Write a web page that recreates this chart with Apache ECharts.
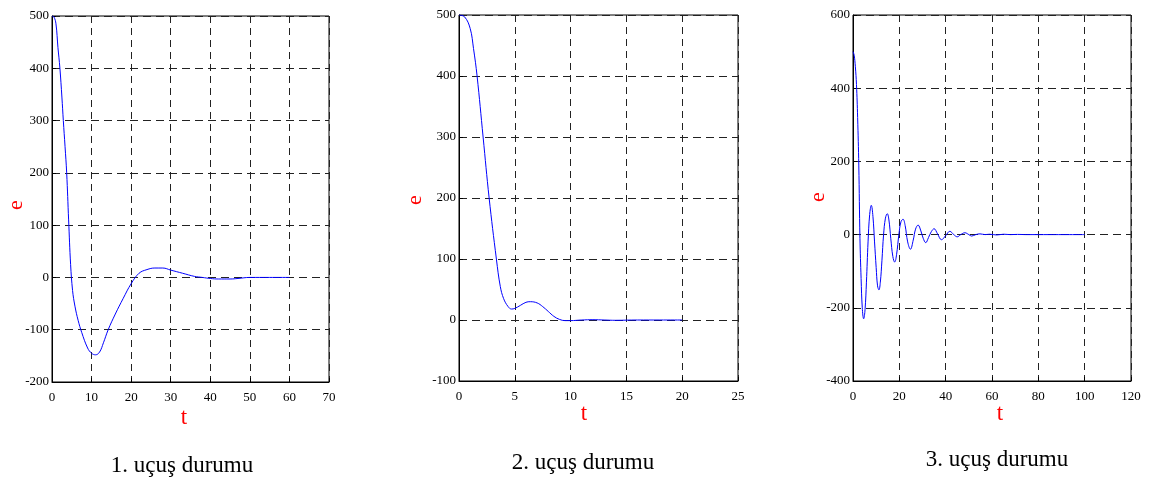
<!DOCTYPE html>
<html>
<head>
<meta charset="utf-8">
<script src="https://cdn.jsdelivr.net/npm/echarts@6/dist/echarts.min.js"></script>
<style>
html,body{margin:0;padding:0;background:#fff;}
#c{width:1149px;height:482px;}
</style>
</head>
<body>
<div id="c"></div>
<script>
// Chart 1: 1. uçuş durumu
const t1 = [0, 0.5, 1, 1.5, 2, 2.5, 2.86, 3.3, 3.71, 4.2, 4.7, 5.2, 5.8, 6.6, 7.5, 9, 10, 11, 12, 13, 14.2, 16, 18, 20, 22, 24, 26, 28, 30, 33, 36, 38, 40, 42, 45, 47, 50, 55, 60];
const e1 = [500, 498, 485, 440, 400, 345, 300, 250, 200, 110, 25, -25, -55, -82, -105, -135, -145, -148, -143, -125, -100, -70, -40, -12, 8, 15, 18, 18, 14, 8, 2, 0, -2, -3, -3, -2, 0, 0, 0];
// Chart 2: 2. uçuş durumu
const t2 = [0, 0.5, 1, 1.3, 1.62, 2.16, 2.7, 3.35, 3.7, 4.0, 4.4, 4.7, 5.0, 5.5, 6.0, 6.4, 7.0, 7.5, 8.0, 8.5, 9.0, 9.5, 10, 11, 12, 13, 14, 16, 18, 20];
const e2 = [500, 497, 478, 445, 400, 300, 200, 100, 55, 35, 22, 18, 19, 24, 29, 30, 28, 22, 14, 6, 1, -1, -1, 0, 0.5, 0, -0.5, 0, 0, 0];
// Chart 3: 3. uçuş durumu
const t3 = [0, 0.5, 1, 1.5, 2, 2.5, 3, 3.5, 4, 4.6, 5.2, 5.8, 6.5, 7.2, 7.9, 8.6, 9.3, 10, 10.6, 11.2, 11.8, 12.5, 13.2, 14, 14.8, 15.5, 16.3, 17.2, 18, 18.8, 19.8, 20.7, 21.6, 22.5, 23.6, 24.8, 26, 27, 28.1, 29.3, 30.3, 31.4, 32.6, 33.8, 35, 36.5, 38.2, 40, 41.8, 43.5, 45, 46.5, 48.3, 50, 51.2, 53, 54.8, 57, 59, 62, 65, 68, 71, 75, 85, 100];
const e3 = [500, 490, 460, 410, 320, 190, -10, -120, -200, -230, -205, -130, -20, 55, 80, 50, -20, -90, -140, -151, -130, -70, 0, 45, 57, 40, -10, -60, -75, -55, 0, 35, 42, 25, -20, -40, -15, 15, 26, 10, -10, -22, -8, 8, 16, 2, -14, -3, 9, 0, -6, 0, 5, 0, -4, 0, 2, 0, 1, -1, 1, 0, 0.5, 0, 0, 0];

const titles = ['1. uçuş durumu', '2. uçuş durumu', '3. uçuş durumu'];
const xRanges = [[0, 70, 10], [0, 25, 5], [0, 120, 20]];
const yRanges = [[-200, 500, 100], [-100, 500, 100], [-400, 600, 200]];

const grids = [
  {left: 52, top: 16, width: 277, height: 366},
  {left: 459, top: 15, width: 279, height: 366},
  {left: 853, top: 15, width: 278, height: 366}
];

const serif = 'Liberation Serif, Times New Roman, serif';
const lblStyle = {fontFamily: serif, fontSize: 13, color: '#000'};

function pairs(t, e) { return t.map((v, i) => [v, e[i]]); }
const seriesData = [pairs(t1, e1), pairs(t2, e2), pairs(t3, e3)];

const option = {
  animation: false,
  backgroundColor: '#fff',
  grid: grids.map(g => Object.assign({show: true, borderColor: '#000', borderWidth: 1, backgroundColor: 'transparent'}, g)),
  xAxis: xRanges.map((r, i) => ({
    type: 'value', gridIndex: i, min: r[0], max: r[1], interval: r[2],
    axisLine: {show: true, onZero: false, lineStyle: {color: '#000', width: 1}},
    axisTick: {show: true, inside: true, length: 4, lineStyle: {color: '#000'}},
    axisLabel: Object.assign({margin: 9, showMinLabel: true, showMaxLabel: true}, lblStyle),
    splitLine: {show: true, lineStyle: {color: '#222', type: [7, 5], width: 1}}
  })),
  yAxis: yRanges.map((r, i) => ({
    type: 'value', gridIndex: i, min: r[0], max: r[1], interval: r[2],
    axisLine: {show: true, onZero: false, lineStyle: {color: '#000', width: 1}},
    axisTick: {show: true, inside: true, length: 4, lineStyle: {color: '#000'}},
    axisLabel: Object.assign({margin: 3, showMinLabel: true, showMaxLabel: true}, lblStyle),
    splitLine: {show: true, lineStyle: {color: '#222', type: [8, 5], width: 1}}
  })),
  series: seriesData.map((d, i) => ({
    type: 'line', xAxisIndex: i, yAxisIndex: i, data: d,
    showSymbol: false, symbol: 'none', smooth: 0.4,
    lineStyle: {color: '#0000ff', width: 1}, z: 5
  })),
  graphic: [
    {type: 'text', x: 16, y: 205, rotation: Math.PI / 2, style: {text: 'e', fill: '#ff0000', font: '22px ' + serif, textAlign: 'center', textVerticalAlign: 'middle'}},
    {type: 'text', x: 415, y: 200, rotation: Math.PI / 2, style: {text: 'e', fill: '#ff0000', font: '22px ' + serif, textAlign: 'center', textVerticalAlign: 'middle'}},
    {type: 'text', x: 818, y: 197, rotation: Math.PI / 2, style: {text: 'e', fill: '#ff0000', font: '22px ' + serif, textAlign: 'center', textVerticalAlign: 'middle'}},
    {type: 'text', x: 184, y: 418, style: {text: 't', fill: '#ff0000', font: '23px ' + serif, textAlign: 'center', textVerticalAlign: 'middle'}},
    {type: 'text', x: 584, y: 414, style: {text: 't', fill: '#ff0000', font: '23px ' + serif, textAlign: 'center', textVerticalAlign: 'middle'}},
    {type: 'text', x: 1000, y: 414, style: {text: 't', fill: '#ff0000', font: '23px ' + serif, textAlign: 'center', textVerticalAlign: 'middle'}},
    {type: 'text', x: 182, y: 466, style: {text: titles[0], fill: '#000', font: '23px ' + serif, textAlign: 'center', textVerticalAlign: 'middle'}},
    {type: 'text', x: 583, y: 463, style: {text: titles[1], fill: '#000', font: '23px ' + serif, textAlign: 'center', textVerticalAlign: 'middle'}},
    {type: 'text', x: 997, y: 460, style: {text: titles[2], fill: '#000', font: '23px ' + serif, textAlign: 'center', textVerticalAlign: 'middle'}}
  ]
};

const chart = echarts.init(document.getElementById('c'), null, {renderer: 'canvas'});
chart.setOption(option);
</script>
</body>
</html>
